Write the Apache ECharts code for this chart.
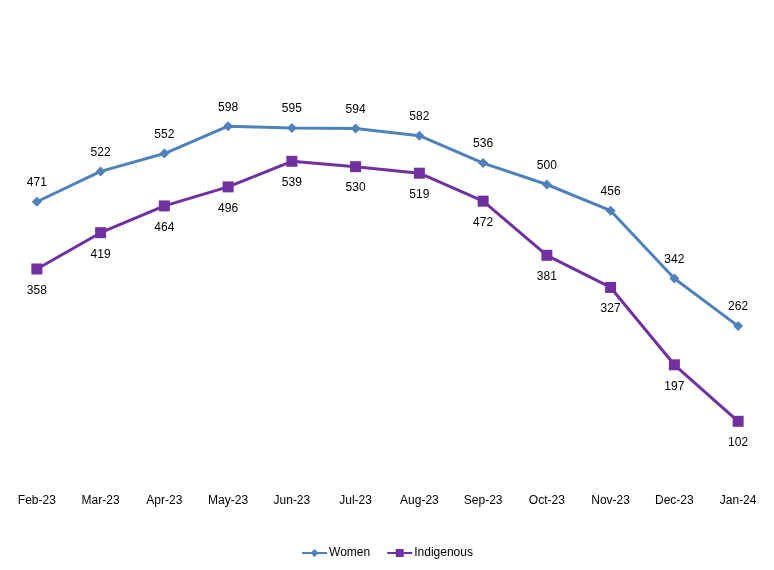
<!DOCTYPE html>
<html><head><meta charset="utf-8">
<script src="https://cdn.jsdelivr.net/npm/echarts@6/dist/echarts.min.js"></script>
<style>html,body{margin:0;padding:0;background:#fff}#c{width:774px;height:570px}</style>
</head><body><div id="c"></div>
<script>
const categories = ['Feb-23','Mar-23','Apr-23','May-23','Jun-23','Jul-23','Aug-23','Sep-23','Oct-23','Nov-23','Dec-23','Jan-24'];
const women = [471,522,552,598,595,594,582,536,500,456,342,262];
const indigenous = [358,419,464,496,539,530,519,472,381,327,197,102];
const font = 'Liberation Sans, Arial, sans-serif';
const chart = echarts.init(document.getElementById('c'));
chart.setOption({
  animation: false,
  grid: {left: 5, right: 4, top: 6, bottom: 88, containLabel: false},
  xAxis: {type: 'category', data: categories, boundaryGap: true,
    axisLine: {show: false}, axisTick: {show: false},
    axisLabel: {color: '#000', fontSize: 12, fontFamily: font, margin: 13}},
  yAxis: {type: 'value', min: 0, max: 800, show: false, splitLine: {show: false}},
  legend: {bottom: 6, left: 'center', itemWidth: 25, itemHeight: 10, itemGap: 16,
    textStyle: {color: '#000', fontSize: 12, fontFamily: font, padding: [0, 0, 0, -3]},
    data: ['Women','Indigenous']},
  series: [
    {name: 'Women', type: 'line', data: women, symbol: 'diamond', symbolSize: 10,
      lineStyle: {color: '#4F81BD', width: 3}, itemStyle: {color: '#4F81BD'},
      label: {show: true, position: 'top', distance: 8, color: '#000', fontSize: 12, fontFamily: font}},
    {name: 'Indigenous', type: 'line', data: indigenous, symbol: 'rect', symbolSize: 11,
      lineStyle: {color: '#7030A0', width: 3}, itemStyle: {color: '#7030A0'},
      label: {show: true, position: 'bottom', distance: 10, color: '#000', fontSize: 12, fontFamily: font}}
  ]
});
</script></body></html>
